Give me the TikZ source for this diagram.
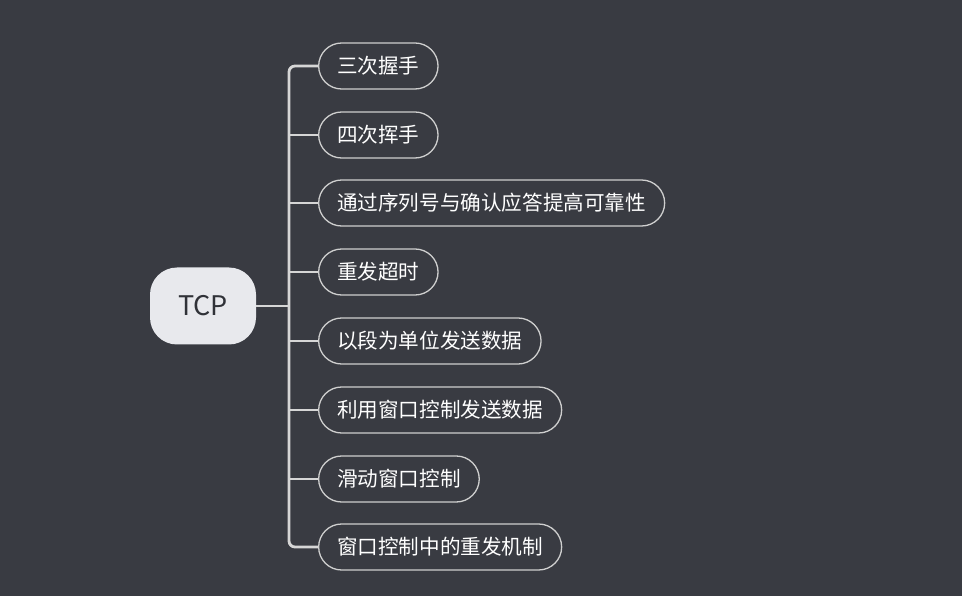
\documentclass[tikz,border=0pt]{standalone}
\usepackage{fontspec}
\setmainfont{Noto Sans CJK SC}
\definecolor{bg}{HTML}{393B42}
\definecolor{rootfill}{HTML}{E8E9ED}
\definecolor{rootText}{HTML}{303238}
\definecolor{edge}{HTML}{D6D6D6}
\definecolor{boxline}{HTML}{CFCFCF}
\begin{document}
\begin{tikzpicture}[x=1pt,y=-1pt,
  rootbox/.style={fill=rootfill,rounded corners=27pt,minimum width=106pt,minimum height=77pt,inner sep=0pt,font=\fontsize{27}{30}\selectfont,text=rootText},
  childbox/.style={draw=boxline,line width=1.3pt,rounded corners=23pt,minimum height=46pt,inner xsep=18.5pt,inner ysep=0pt,anchor=west,font=\fontsize{20.6}{24}\selectfont,text=white},
  link/.style={draw=edge,line width=2.8pt}]
\fill[bg] (0,0) rectangle (962,596);
\useasboundingbox (0,0) rectangle (962,596);
\node[rootbox] (root) at (203,306) {TCP};
\node[childbox] (n1) at (318,66) {三次握手};
\node[childbox] (n2) at (318,135) {四次挥手};
\node[childbox] (n3) at (318,203) {通过序列号与确认应答提高可靠性};
\node[childbox] (n4) at (318,272) {重发超时};
\node[childbox] (n5) at (318,341) {以段为单位发送数据};
\node[childbox] (n6) at (318,410) {利用窗口控制发送数据};
\node[childbox] (n7) at (318,479) {滑动窗口控制};
\node[childbox] (n8) at (318,547) {窗口控制中的重发机制};
\coordinate (tt) at (289,66);
\coordinate (tb) at (289,547);
\draw[link,rounded corners=6pt] (n1.west) -- (tt) -- (tb) -- (n8.west);
\foreach \n in {n2,n3,n4,n5,n6,n7}{\draw[link] (\n.west) -- (\n.west -| tt);}
\draw[link] (root.east) -- (root.east -| tt);
\end{tikzpicture}
\end{document}
